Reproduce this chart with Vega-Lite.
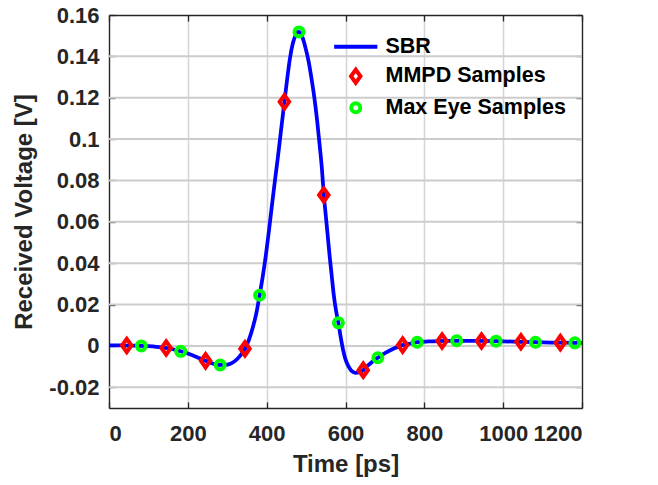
{
  "$schema": "https://vega.github.io/schema/vega-lite/v6.json",
  "width": 473,
  "height": 393,
  "autosize": {"type": "none"},
  "padding": {"left": 109, "top": 15, "right": 76, "bottom": 77},
  "background": "white",
  "config": {
    "view": {"stroke": null},
    "font": "Liberation Sans",
    "axis": {
      "domainColor": "#262626",
      "domainWidth": 1.3,
      "tickColor": "#262626",
      "tickWidth": 1.3,
      "tickSize": -6,
      "gridColor": "#d6d6d6",
      "gridWidth": 1.6,
      "gridOpacity": 1,
      "labelOverlap": false,
      "labelFont": "Liberation Sans",
      "labelFontSize": 22,
      "labelFontWeight": "bold",
      "labelColor": "#262626",
      "titleFont": "Liberation Sans",
      "titleFontSize": 24,
      "titleFontWeight": "bold",
      "titleColor": "#262626"
    },
    "legend": {
      "labelFont": "Liberation Sans",
      "labelFontSize": 21.5,
      "labelFontWeight": "bold",
      "labelColor": "black",
      "labelLimit": 400,
      "symbolStrokeWidth": 4,
      "symbolSize": 81,
      "symbolFillColor": "white",
      "padding": 0,
      "rowPadding": 3.5,
      "labelOffset": 19
    }
  },
  "datasets": {
    "gridY": [
      {"v": -0.02}, {"v": 0}, {"v": 0.02}, {"v": 0.04}, {"v": 0.06},
      {"v": 0.08}, {"v": 0.1}, {"v": 0.12}, {"v": 0.14}
    ],
    "curves": [
      {"series": "SBR", "t": 0, "v": 0.0003},
      {"series": "SBR", "t": 20, "v": 0.0003},
      {"series": "SBR", "t": 45, "v": 0.0002},
      {"series": "SBR", "t": 70, "v": 0.0001},
      {"series": "SBR", "t": 95, "v": -0.0001},
      {"series": "SBR", "t": 120, "v": -0.0004},
      {"series": "SBR", "t": 145, "v": -0.0010},
      {"series": "SBR", "t": 165, "v": -0.0017},
      {"series": "SBR", "t": 182, "v": -0.0026},
      {"series": "SBR", "t": 200, "v": -0.0037},
      {"series": "SBR", "t": 222, "v": -0.0053},
      {"series": "SBR", "t": 245, "v": -0.0072},
      {"series": "SBR", "t": 265, "v": -0.0086},
      {"series": "SBR", "t": 282, "v": -0.0092},
      {"series": "SBR", "t": 295, "v": -0.0092},
      {"series": "SBR", "t": 308, "v": -0.0086},
      {"series": "SBR", "t": 320, "v": -0.0072},
      {"series": "SBR", "t": 332, "v": -0.0049},
      {"series": "SBR", "t": 345, "v": -0.0014},
      {"series": "SBR", "t": 355, "v": 0.0030},
      {"series": "SBR", "t": 365, "v": 0.0090},
      {"series": "SBR", "t": 374, "v": 0.0160},
      {"series": "SBR", "t": 382, "v": 0.0245},
      {"series": "SBR", "t": 390, "v": 0.0335},
      {"series": "SBR", "t": 398, "v": 0.0440},
      {"series": "SBR", "t": 406, "v": 0.0560},
      {"series": "SBR", "t": 414, "v": 0.0690},
      {"series": "SBR", "t": 421, "v": 0.0800},
      {"series": "SBR", "t": 428, "v": 0.0905},
      {"series": "SBR", "t": 436, "v": 0.1035},
      {"series": "SBR", "t": 445, "v": 0.1180},
      {"series": "SBR", "t": 452, "v": 0.1290},
      {"series": "SBR", "t": 459, "v": 0.1390},
      {"series": "SBR", "t": 466, "v": 0.1460},
      {"series": "SBR", "t": 473, "v": 0.1500},
      {"series": "SBR", "t": 478, "v": 0.1515},
      {"series": "SBR", "t": 482, "v": 0.1518},
      {"series": "SBR", "t": 487, "v": 0.1510},
      {"series": "SBR", "t": 493, "v": 0.1480},
      {"series": "SBR", "t": 500, "v": 0.1430},
      {"series": "SBR", "t": 507, "v": 0.1370},
      {"series": "SBR", "t": 514, "v": 0.1290},
      {"series": "SBR", "t": 521, "v": 0.1200},
      {"series": "SBR", "t": 528, "v": 0.1090},
      {"series": "SBR", "t": 535, "v": 0.0960},
      {"series": "SBR", "t": 540, "v": 0.0860},
      {"series": "SBR", "t": 545, "v": 0.0730},
      {"series": "SBR", "t": 550, "v": 0.0630},
      {"series": "SBR", "t": 555, "v": 0.0530},
      {"series": "SBR", "t": 560, "v": 0.0430},
      {"series": "SBR", "t": 565, "v": 0.0340},
      {"series": "SBR", "t": 570, "v": 0.0250},
      {"series": "SBR", "t": 576, "v": 0.0170},
      {"series": "SBR", "t": 582, "v": 0.0112},
      {"series": "SBR", "t": 588, "v": 0.0040},
      {"series": "SBR", "t": 594, "v": -0.0020},
      {"series": "SBR", "t": 600, "v": -0.0065},
      {"series": "SBR", "t": 608, "v": -0.0100},
      {"series": "SBR", "t": 616, "v": -0.0122},
      {"series": "SBR", "t": 625, "v": -0.0130},
      {"series": "SBR", "t": 635, "v": -0.0127},
      {"series": "SBR", "t": 645, "v": -0.0117},
      {"series": "SBR", "t": 655, "v": -0.0098},
      {"series": "SBR", "t": 668, "v": -0.0076},
      {"series": "SBR", "t": 682, "v": -0.0057},
      {"series": "SBR", "t": 700, "v": -0.0035},
      {"series": "SBR", "t": 720, "v": -0.0015},
      {"series": "SBR", "t": 745, "v": 0.0004},
      {"series": "SBR", "t": 765, "v": 0.0012},
      {"series": "SBR", "t": 782, "v": 0.0018},
      {"series": "SBR", "t": 810, "v": 0.0022},
      {"series": "SBR", "t": 845, "v": 0.0024},
      {"series": "SBR", "t": 882, "v": 0.0025},
      {"series": "SBR", "t": 945, "v": 0.0024},
      {"series": "SBR", "t": 982, "v": 0.0023},
      {"series": "SBR", "t": 1045, "v": 0.0020},
      {"series": "SBR", "t": 1082, "v": 0.0018},
      {"series": "SBR", "t": 1145, "v": 0.0016},
      {"series": "SBR", "t": 1182, "v": 0.0015},
      {"series": "SBR", "t": 1200, "v": 0.0015}
    ],
    "samples": [
      {"series": "MMPD Samples", "t": 45, "v": 0.0002},
      {"series": "MMPD Samples", "t": 145, "v": -0.0010},
      {"series": "MMPD Samples", "t": 245, "v": -0.0072},
      {"series": "MMPD Samples", "t": 345, "v": -0.0014},
      {"series": "MMPD Samples", "t": 445, "v": 0.1180},
      {"series": "MMPD Samples", "t": 545, "v": 0.0730},
      {"series": "MMPD Samples", "t": 645, "v": -0.0117},
      {"series": "MMPD Samples", "t": 745, "v": 0.0004},
      {"series": "MMPD Samples", "t": 845, "v": 0.0024},
      {"series": "MMPD Samples", "t": 945, "v": 0.0024},
      {"series": "MMPD Samples", "t": 1045, "v": 0.0020},
      {"series": "MMPD Samples", "t": 1145, "v": 0.0016},
      {"series": "Max Eye Samples", "t": 82, "v": 0.0000},
      {"series": "Max Eye Samples", "t": 182, "v": -0.0026},
      {"series": "Max Eye Samples", "t": 282, "v": -0.0092},
      {"series": "Max Eye Samples", "t": 382, "v": 0.0245},
      {"series": "Max Eye Samples", "t": 482, "v": 0.1518},
      {"series": "Max Eye Samples", "t": 582, "v": 0.0112},
      {"series": "Max Eye Samples", "t": 682, "v": -0.0057},
      {"series": "Max Eye Samples", "t": 782, "v": 0.0018},
      {"series": "Max Eye Samples", "t": 882, "v": 0.0025},
      {"series": "Max Eye Samples", "t": 982, "v": 0.0023},
      {"series": "Max Eye Samples", "t": 1082, "v": 0.0018},
      {"series": "Max Eye Samples", "t": 1182, "v": 0.0015}
    ]
  },
  "resolve": {"axis": {"x": "independent", "y": "independent"}},
  "layer": [
    {
      "data": {"name": "gridY"},
      "mark": {"type": "rule", "color": "#cccccc", "strokeWidth": 2},
      "encoding": {
        "y": {"field": "v", "type": "quantitative", "axis": null}
      }
    },
    {
      "data": {"name": "samples"},
      "mark": {"type": "point", "opacity": 0},
      "encoding": {
        "x": {"field": "t", "type": "quantitative", "scale": {"domain": [0, 1200], "nice": false}, "axis": {"orient": "top", "title": null, "labels": false, "grid": true, "values": [0, 200, 400, 600, 800, 1000, 1200]}},
        "y": {"field": "v", "type": "quantitative", "scale": {"domain": [-0.03, 0.16], "nice": false, "zero": false}, "axis": {"orient": "right", "title": null, "labels": false, "grid": false, "tickCount": 10}}
      }
    },
    {
      "data": {"name": "curves"},
      "mark": {"type": "line", "strokeWidth": 3.75, "interpolate": "monotone"},
      "encoding": {
        "x": {
          "field": "t", "type": "quantitative",
          "axis": {"orient": "bottom", "title": "Time [ps]", "values": [0, 200, 400, 600, 800, 1000, 1200], "grid": false, "format": "d", "labelPadding": 21, "titlePadding": 8}
        },
        "y": {
          "field": "v", "type": "quantitative",
          "axis": {"orient": "left", "title": "Received Voltage [V]", "tickCount": 10, "grid": false, "labelPadding": 16, "titlePadding": 12, "labelExpr": "replace(format(datum.value, '.2~f'), '\u2212', '-')"}
        },
        "color": {
          "field": "series", "type": "nominal",
          "scale": {"domain": ["SBR", "MMPD Samples", "Max Eye Samples"], "range": ["#0000ff", "#ff0000", "#00ff00"]},
          "legend": {"title": null, "orient": "none", "legendX": 236, "legendY": 21}
        }
      }
    },
    {
      "data": {"name": "samples"},
      "mark": {"type": "point", "filled": false, "strokeWidth": 4, "size": 81, "opacity": 1},
      "encoding": {
        "x": {"field": "t", "type": "quantitative", "axis": null},
        "y": {"field": "v", "type": "quantitative", "axis": null},
        "color": {"field": "series", "type": "nominal"},
        "shape": {
          "field": "series", "type": "nominal",
          "scale": {"domain": ["SBR", "MMPD Samples", "Max Eye Samples"], "range": ["M-4.8,0H4.8", "M0,-1.47L1.05,0L0,1.47L-1.05,0Z", "circle"]},
          "legend": {"title": null, "orient": "none", "legendX": 236, "legendY": 21}
        }
      }
    },
    {
      "data": {"name": "samples"},
      "mark": {"type": "point", "filled": true, "size": 10, "color": "#0000ff", "opacity": 1},
      "encoding": {
        "x": {"field": "t", "type": "quantitative", "axis": null},
        "y": {"field": "v", "type": "quantitative", "axis": null}
      }
    }
  ]
}
